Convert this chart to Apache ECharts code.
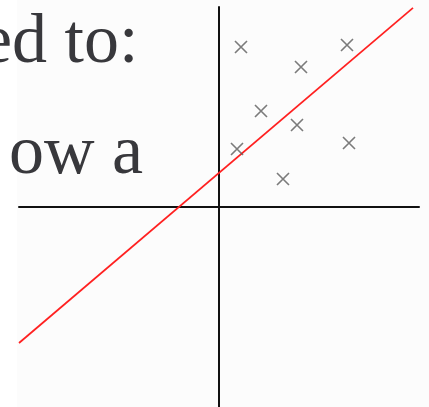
<!DOCTYPE html>
<html>
<head>
<meta charset="utf-8">
<script src="https://cdn.jsdelivr.net/npm/echarts@6/dist/echarts.min.js"></script>
<style>
  html, body { margin: 0; padding: 0; background: #ffffff; }
  #chart { width: 429px; height: 407px; }
</style>
</head>
<body>
<div id="chart"></div>
<script>
// Sample observations (x, y)
const pointX = [0.55, 3.2, 2.05, 1.05, 1.95, 0.45, 3.25, 1.6];
const pointY = [4.0, 4.05, 3.5, 2.4, 2.05, 1.45, 1.6, 0.7];

// Fitted straight line, given by its two end points
const fitX = [-5.0, 4.85];
const fitY = [-3.4, 4.98];

// Slide text lines behind the plot
const textLines = ['ed to:', 'ow a'];

const points = pointX.map((x, i) => [x, pointY[i]]);
const fit = fitX.map((x, i) => [x, fitY[i]]);

const chart = echarts.init(document.getElementById('chart'), null, { renderer: 'canvas' });

const textFont = '70px "Liberation Serif", "Times New Roman", serif';

chart.setOption({
  backgroundColor: '#ffffff',
  animation: false,
  graphic: [
    {
      type: 'rect',
      z: -10,
      shape: { x: 17, y: 0, width: 412, height: 407 },
      style: { fill: '#fcfcfc' },
      silent: true
    },
    {
      type: 'text',
      left: -19, top: 9,
      z: 10,
      style: { text: textLines[0], font: textFont, fill: '#38383c' }
    },
    {
      type: 'text',
      left: 9, top: 120,
      z: 10,
      style: { text: textLines[1], font: textFont, fill: '#38383c' }
    }
  ],
  grid: { left: 19, right: 10, top: 7, bottom: 0, containLabel: false },
  xAxis: {
    type: 'value',
    min: -5, max: 5,
    axisLine: { onZero: true, lineStyle: { color: '#111111', width: 2 } },
    axisTick: { show: false },
    axisLabel: { show: false },
    splitLine: { show: false }
  },
  yAxis: {
    type: 'value',
    min: -5, max: 5,
    axisLine: { onZero: true, lineStyle: { color: '#111111', width: 2 } },
    axisTick: { show: false },
    axisLabel: { show: false },
    splitLine: { show: false }
  },
  series: [
    {
      type: 'line',
      data: fit,
      symbol: 'none',
      lineStyle: { color: '#ff2020', width: 1.7 },
      z: 3
    },
    {
      type: 'scatter',
      data: points,
      symbol: 'path://M0,0L10,10M10,0L0,10',
      symbolSize: 12,
      itemStyle: { color: 'none', borderColor: '#5a5a5a', borderWidth: 1.6 },
      z: 4
    }
  ]
});
</script>
</body>
</html>
